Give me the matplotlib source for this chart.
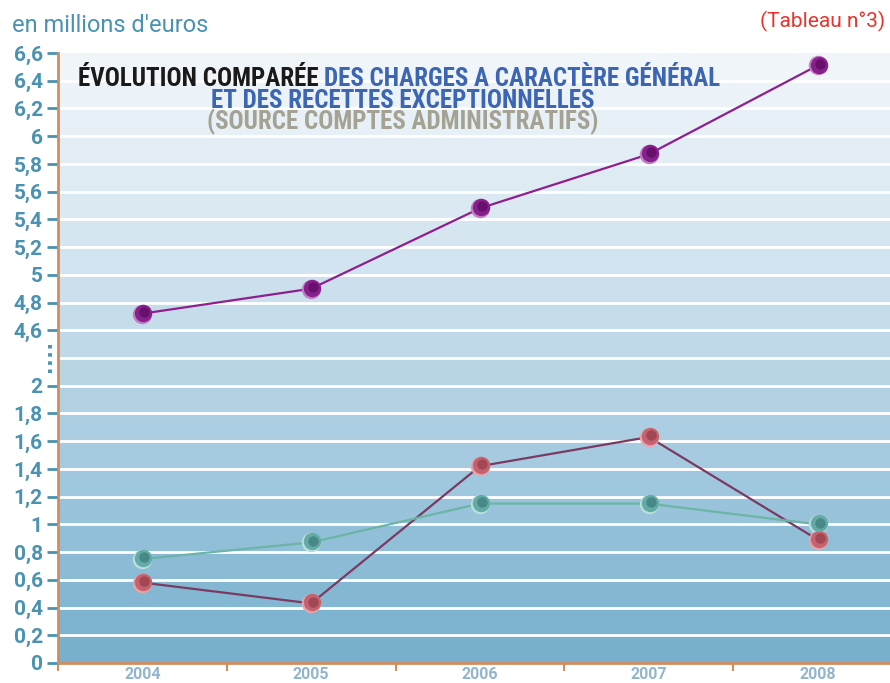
import numpy as np
import matplotlib
matplotlib.use("Agg")
import matplotlib.pyplot as plt
from matplotlib import font_manager
from matplotlib.colors import LinearSegmentedColormap
from matplotlib.transforms import offset_copy

years = ['2004', '2005', '2006', '2007', '2008']
charges = [4.72, 4.90, 5.48, 5.87, 6.51]
recettes_a = [0.58, 0.43, 1.42, 1.63, 0.89]
recettes_b = [0.75, 0.87, 1.15, 1.15, 1.00]

low_ticks = [0, 0.2, 0.4, 0.6, 0.8, 1, 1.2, 1.4, 1.6, 1.8, 2]
high_ticks = [4.6, 4.8, 5, 5.2, 5.4, 5.6, 5.8, 6, 6.2, 6.4, 6.6]
tick_labels = ['0', '0,2', '0,4', '0,6', '0,8', '1', '1,2', '1,4', '1,6', '1,8', '2',
               '4,6', '4,8', '5', '5,2', '5,4', '5,6', '5,8', '6', '6,2', '6,4', '6,6']

names = {f.name for f in font_manager.fontManager.ttflist}
cond = next((n for n in ['Liberation Sans Narrow', 'Roboto Condensed', 'DejaVu Sans'] if n in names), 'DejaVu Sans')
base_font = 'Roboto' if 'Roboto' in names else 'DejaVu Sans'

blue_txt = '#4a92b2'


# broken axis: 0-2 linear, 2-4.6 squeezed into two steps, 4.6-6.6 linear
def fwd(v):
    v = np.asarray(v, float)
    return np.where(v <= 2, v, np.where(v >= 4.6, v - 2.2, 2 + (v - 2) * 0.4 / 2.6))


def inv(p):
    p = np.asarray(p, float)
    return np.where(p <= 2, p, np.where(p >= 2.4, p + 2.2, 2 + (p - 2) * 2.6 / 0.4))


fig = plt.figure(figsize=(8.9, 6.83), dpi=100)
ax = fig.add_axes([58 / 890, 20 / 683, 844 / 890, 610 / 683])
ax.set_yscale('function', functions=(fwd, inv))
ax.set_xlim(-0.5, 4.5)
ax.set_ylim(0, 6.6)

# stepped gradient background
cmap = LinearSegmentedColormap.from_list('bg', ['#78b0cd', '#a6cbe0', '#d2e4ef', '#f0f5fa'])
grad = np.linspace(0, 1, 22).reshape(-1, 1)
ax.imshow(grad, extent=[0, 1, 0, 1], transform=ax.transAxes, aspect='auto',
          cmap=cmap, origin='lower', interpolation='nearest', zorder=0)

for p in np.arange(0.2, 4.3, 0.2):
    ax.axhline(float(inv(p)), color='white', lw=2, zorder=1)

x = np.arange(len(years))
series = [
    (charges, '#8e1f8f', '#c27fc4', '#86208a', '#4e0656'),
    (recettes_a, '#7a3a62', '#eaa3ab', '#c4636f', '#86303f'),
    (recettes_b, '#6cb4a6', '#b9e0dc', '#64aaa6', '#2f6f6c'),
]
for vals, lc, light, mid, dark in series:
    ax.plot(x, vals, color=lc, lw=1.6, zorder=3)
    ax.plot(x, vals, 'o', ms=14, mfc=light, mec='none', zorder=4)
    ax.plot(x, vals, 'o', ms=12.5, mfc=mid, mec='none', zorder=5,
            transform=offset_copy(ax.transData, fig=fig, x=0.7, y=0.7, units='points'))
    ax.plot(x, vals, 'o', ms=7.5, mfc=dark, mec='none', zorder=6, alpha=0.55,
            transform=offset_copy(ax.transData, fig=fig, x=1.5, y=1.3, units='points'))

for s in ['top', 'right']:
    ax.spines[s].set_visible(False)
for s in ['left', 'bottom']:
    ax.spines[s].set_color('#d38d5c')
    ax.spines[s].set_linewidth(2)
    ax.spines[s].set_zorder(7)

ax.set_yticks(low_ticks + high_ticks)
ax.set_yticklabels(tick_labels, fontfamily=base_font, fontweight='bold', fontsize=15)
ax.tick_params(axis='y', colors=blue_txt, length=8, width=2, pad=3)
ax.yaxis.set_minor_locator(plt.NullLocator())

ax.set_xticks(np.arange(-0.5, 4.6, 1))
ax.set_xticklabels([])
ax.set_xticks(x, minor=True)
ax.set_xticklabels(years, minor=True, fontfamily=base_font, fontweight='bold',
                   fontsize=11.5, color='#93b5cc')
ax.tick_params(axis='x', which='major', color='#d38d5c', length=6, width=1.5)
ax.tick_params(axis='x', which='minor', length=0, pad=3)

# dotted break marker
ax.plot([-8 / 844, -8 / 844], [2.6, 3.95], color=blue_txt, lw=2.8,
        linestyle=(0, (0.9, 1.2)), clip_on=False,
        transform=ax.get_yaxis_transform())

fig.text(12 / 890, 1 - 26 / 683, "en millions d'euros", fontfamily=base_font,
         fontsize=17, color=blue_txt, ha='left', va='center')
fig.text(885 / 890, 1 - 21 / 683, "(Tableau n°3)", fontfamily=base_font,
         fontsize=15, color='#e8342c', ha='right', va='center')

tkw = dict(fontfamily=cond, fontweight='bold', fontsize=18, fontstretch='condensed')
t1 = fig.text(78 / 890, 1 - 86 / 683, "ÉVOLUTION COMPARÉE ", color='#1a1a1a',
              ha='left', va='baseline', **tkw)
ax.annotate("DES CHARGES A CARACTÈRE GÉNÉRAL", xy=(1, 0), xycoords=t1,
            ha='left', va='bottom', color='#3c66b4', annotation_clip=False, **tkw)
fig.text(403 / 890, 1 - 108 / 683, "ET DES RECETTES EXCEPTIONNELLES", color='#3c66b4',
         ha='center', va='baseline', **tkw)
fig.text(403 / 890, 1 - 129 / 683, "(SOURCE COMPTES ADMINISTRATIFS)", color='#a3a293',
         ha='center', va='baseline', **tkw)

fig.savefig('out.png', dpi=100)
